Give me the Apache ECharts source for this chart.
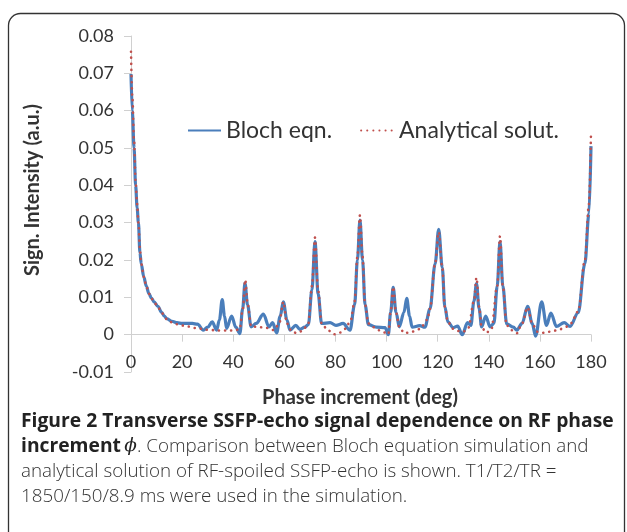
<!DOCTYPE html>
<html>
<head>
<meta charset="utf-8">
<script src="https://cdn.jsdelivr.net/npm/echarts@6/dist/echarts.min.js"></script>
<style>
  html, body { margin: 0; padding: 0; background: #fff; }
  #main { width: 627px; height: 532px; }
</style>
</head>
<body>
<div id="main"></div>
<script>
// phase increment (deg) and signal of the Bloch simulation
const blochPhase = [0, 0.5, 1.2, 1.8, 2.4, 2.9, 3.5, 4, 5, 6, 7, 8, 9, 10.5, 12, 13, 14, 16, 18, 20, 22, 24, 26,
  28.3, 30, 31.8, 33.5, 34.6, 35.7, 36.6, 37.4, 39.4, 41, 42.6, 43.7, 44.6, 45.6, 47, 49, 51.8, 54, 55.4, 57,
  58.4, 59.6, 61, 62.2, 64.5, 66.1, 68, 69.4, 70.8, 72, 73.2, 74.6, 77.9, 80.2, 83, 85.7, 87.5, 88.6, 89.6,
  90.6, 91.6, 92.9, 96, 99.4, 100.7, 101.6, 102.6, 103.7, 105, 106.8, 107.9, 109, 110, 113, 115, 117, 119,
  120.4, 121.8, 122.8, 124, 126, 127.8, 129.6, 131.7, 133, 134.2, 135.2, 136.2, 137.2, 138.8, 140.5, 142,
  143.3, 144.4, 145.5, 147, 149.6, 151, 153, 155.2, 157, 158.3, 160.7, 162.6, 164.3, 166.5, 169.5, 171.8,
  175, 177.6, 179.2, 180];
const blochSignal = [0.0698, 0.06, 0.05, 0.04, 0.034, 0.03, 0.022, 0.019, 0.0155, 0.013, 0.011, 0.0098, 0.0088,
  0.0076, 0.006, 0.005, 0.0043, 0.0036, 0.0032, 0.003, 0.003, 0.003, 0.0028,
  0.0012, 0.002, 0.0034, 0.0012, 0.004, 0.0094, 0.005, 0.0017, 0.005, 0.002, 0.0003, 0.007, 0.0138, 0.008,
  0.0021, 0.003, 0.0055, 0.0021, 0.0032, 0.0005,
  0.005, 0.0088, 0.004, 0.0012, 0.0025, 0.0014, 0.002, 0.0027, 0.012, 0.0249, 0.011, 0.003, 0.0032, 0.0025,
  0.003, 0.0012, 0.008, 0.02, 0.0307,
  0.02, 0.008, 0.0027, 0.002, 0.0019, 0.0, 0.006, 0.0127, 0.006, 0.0021, 0.006, 0.0097, 0.005, 0.002, 0.0024,
  0.002, 0.0069, 0.019,
  0.0282, 0.018, 0.0075, 0.0034, 0.0019, 0.0023, 0.0, 0.0032, 0.0025, 0.009, 0.0137, 0.007, 0.0021, 0.005,
  0.0021, 0.003,
  0.013, 0.0249, 0.013, 0.0029, 0.002, 0.0012, 0.003, 0.0076, 0.003, -0.0004, 0.0088, 0.0025, 0.0058, 0.0022,
  0.0032, 0.0022,
  0.0059, 0.019, 0.0325, 0.0505];

// phase increment (deg) and signal of the analytical solution
const analyticPhase = [0, 0.5, 1.2, 1.8, 2.4, 2.9, 3.5, 4, 5, 6, 7, 8, 9, 10.5, 12, 14, 16, 18, 22, 26, 30, 35,
  40, 42.5, 43.8, 44.7, 45.7, 47, 50.5, 53, 56, 58, 59.6, 61, 63, 65, 67, 69.4, 70.8, 72, 73.2, 74.6, 77, 79.5,
  82, 84, 86, 87.5, 88.6, 89.6, 90.6, 91.6, 92.9, 95, 97, 99, 100.7, 101.6, 102.6, 103.7, 105, 107, 110, 113,
  116, 117, 119, 120.4, 121.8, 122.8, 124, 126, 128, 130, 132, 134.2, 135.2, 136.2, 137.2, 139, 141, 143.3,
  144.4, 145.5, 147, 149, 151, 153, 155.2, 157, 159, 161, 164, 167, 170, 172, 175, 177.6, 179.2, 180];
const analyticSignal = [0.0758, 0.064, 0.052, 0.041, 0.035, 0.03, 0.023, 0.019, 0.0155, 0.013, 0.011, 0.0097,
  0.0087, 0.0075, 0.0058, 0.0042, 0.0033, 0.0028, 0.0022, 0.0017, 0.0013, 0.0011,
  0.0011, 0.0014, 0.007, 0.0147, 0.008, 0.0022, 0.002, 0.0018, 0.0012, 0.003, 0.0088, 0.003, 0.0008, 0.0004,
  0.001, 0.003, 0.013, 0.026, 0.012, 0.003, 0.0012, 0.0001,
  0.0006, 0.0016, 0.004, 0.009, 0.021, 0.032, 0.021, 0.008, 0.003, 0.002, 0.0012, 0.0006, 0.0001, 0.006,
  0.0128, 0.006, 0.002, 0.0004, 0.0008, 0.0015,
  0.004, 0.0069, 0.019, 0.0275, 0.018, 0.0075, 0.0034, 0.0016, 0.001, 0.0008, 0.0018, 0.009, 0.0153, 0.0075,
  0.002, 0.0005, 0.0015, 0.013,
  0.0264, 0.013, 0.0025, 0.0012, 0.0004, 0.003, 0.0073, 0.003, 0.0008, 0.0005, 0.0008, 0.0012, 0.002, 0.003,
  0.0062, 0.02, 0.035, 0.054];

const xTicks = [0, 20, 40, 60, 80, 100, 120, 140, 160, 180];
const yTicks = [-0.01, 0, 0.01, 0.02, 0.03, 0.04, 0.05, 0.06, 0.07, 0.08];

const seriesNames = ['Bloch eqn.', 'Analytical solut.'];

function pairs(xs, ys) {
  return xs.map((x, i) => [x, ys[i]]);
}

const chart = echarts.init(document.getElementById('main'), null, { renderer: 'canvas' });

const axisGray = '#d0d0d0';
const textColor = '#333';
const labelFont = 'Lato, "Open Sans", sans-serif';

// plot box: 460 x 336 px, y range -0.01..0.08 -> 37.33 px per 0.01
const gridH = 336;
const zeroOffset = gridH * (0 - yTicks[0]) / (yTicks[yTicks.length - 1] - yTicks[0]);

const option = {
  animation: false,
  backgroundColor: '#fff',
  grid: { left: 131, top: 36, width: 460, height: gridH, containLabel: false },
  legend: {
    left: 182,
    top: 114,
    itemWidth: 33,
    itemHeight: 20,
    itemGap: 28,
    itemStyle: { opacity: 0 },
    textStyle: { fontFamily: labelFont, fontSize: 23, color: textColor },
    data: seriesNames
  },
  xAxis: {
    type: 'value',
    min: xTicks[0],
    max: xTicks[xTicks.length - 1],
    interval: xTicks[1] - xTicks[0],
    offset: -zeroOffset,
    splitLine: { show: false },
    axisLine: { onZero: false, lineStyle: { color: axisGray, width: 1 } },
    axisTick: { show: true, length: 7, lineStyle: { color: axisGray } },
    axisLabel: { margin: 19, fontFamily: labelFont, fontSize: 18, color: textColor }
  },
  yAxis: {
    type: 'value',
    min: yTicks[0],
    max: yTicks[yTicks.length - 1],
    interval: 0.01,
    splitLine: { show: false },
    axisLine: { show: true, lineStyle: { color: axisGray, width: 1 } },
    axisTick: { show: true, length: 7, lineStyle: { color: axisGray } },
    axisLabel: {
      margin: 17,
      fontFamily: labelFont,
      fontSize: 18,
      color: textColor,
      formatter: v => String(+v.toFixed(2))
    }
  },
  series: [
    {
      name: seriesNames[0],
      type: 'line',
      data: pairs(blochPhase, blochSignal),
      smooth: 0.35,
      smoothMonotone: 'x',
      symbol: 'none',
      color: '#4a7ebb',
      lineStyle: { color: '#4a7ebb', width: 3.2 },
      z: 2
    },
    {
      name: seriesNames[1],
      type: 'line',
      data: pairs(analyticPhase, analyticSignal),
      smooth: 0.35,
      smoothMonotone: 'x',
      symbol: 'none',
      color: '#c0504d',
      lineStyle: { color: '#c0504d', width: 2.6, type: [0.1, 6], cap: 'round' },
      z: 3
    }
  ],
  graphic: [
    {
      type: 'rect',
      silent: true,
      shape: { x: 8.5, y: 13.5, width: 616, height: 600, r: 12 },
      style: { fill: 'none', stroke: '#333', lineWidth: 1.3 }
    },
    {
      type: 'text',
      x: 33,
      y: 190,
      rotation: Math.PI / 2,
      style: {
        text: 'Sign. Intensity (a.u.)',
        fontFamily: labelFont,
        fontWeight: 'bold',
        fontSize: 20,
        fill: textColor,
        align: 'center',
        verticalAlign: 'middle'
      }
    },
    {
      type: 'text',
      x: 360,
      y: 398,
      style: {
        text: 'Phase increment (deg)',
        fontFamily: labelFont,
        fontWeight: 'bold',
        fontSize: 20,
        fill: textColor,
        align: 'center',
        verticalAlign: 'middle'
      }
    },
    {
      type: 'text',
      x: 21,
      y: 409,
      style: {
        text: '{b|Figure 2 Transverse SSFP-echo signal dependence on RF phase}\n' +
          '{b|increment} {i|ϕ}{r|. Comparison between Bloch equation simulation and}\n' +
          '{r|analytical solution of RF-spoiled SSFP-echo is shown. T1/T2/TR =}\n' +
          '{r|1850/150/8.9 ms were used in the simulation.}',
        rich: {
          b: { fontFamily: '"Open Sans", sans-serif', fontWeight: 'bold', fontSize: 19.3, fill: '#222', lineHeight: 25 },
          i: { fontFamily: '"DejaVu Serif", serif', fontStyle: 'italic', fontSize: 18.5, fill: '#222', lineHeight: 25 },
          r: { fontFamily: '"Open Sans", sans-serif', fontWeight: 300, fontSize: 18.8, fill: '#333', lineHeight: 25 }
        }
      }
    }
  ]
};

chart.setOption(option);
</script>
</body>
</html>
